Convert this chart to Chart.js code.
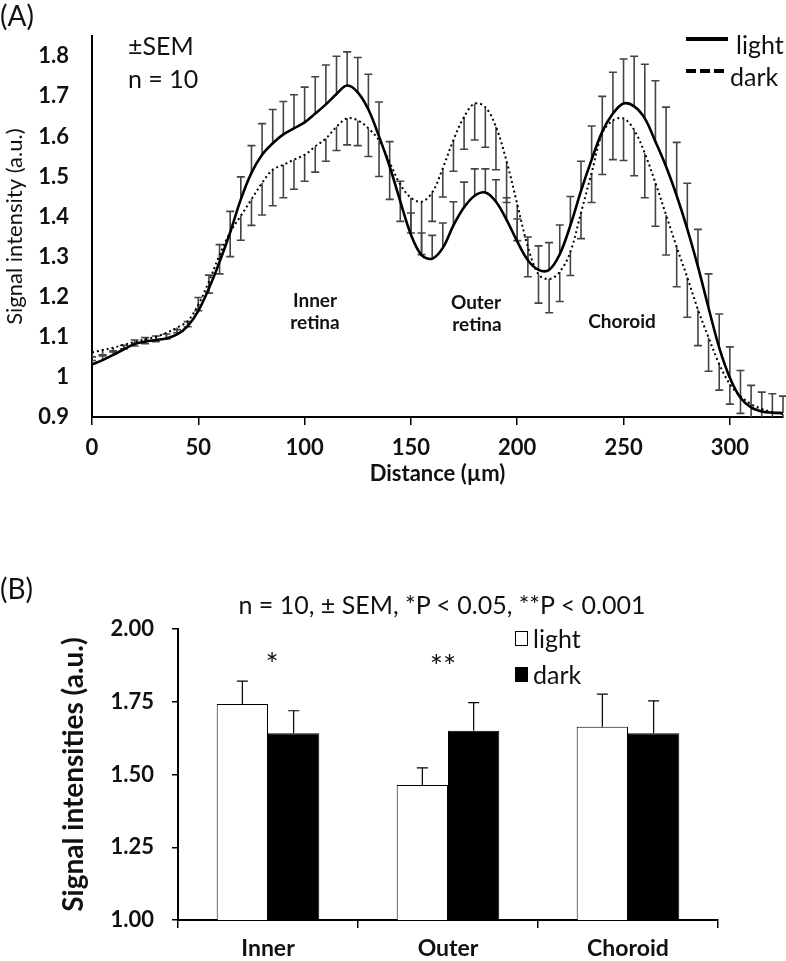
<!DOCTYPE html>
<html><head><meta charset="utf-8">
<script src="https://cdn.jsdelivr.net/npm/chart.js@4.4.1/dist/chart.umd.min.js"></script>
<style>
html,body{margin:0;padding:0;background:#fff;}
body{width:786px;height:961px;position:relative;overflow:hidden;font-family:Lato,"Open Sans",sans-serif;color:#111;}
.t{position:absolute;white-space:nowrap;line-height:1;}
.c{transform:translate(-50%,-50%);}
.l{transform:translate(0,-50%);}
#wa{position:absolute;left:0;top:0;width:786px;height:500px;}
#wb{position:absolute;left:0;top:560px;width:786px;height:401px;}
</style></head><body>
<div id="wa"><canvas id="ca"></canvas></div>
<div id="wb"><canvas id="cb"></canvas></div>

<div class="t l" style="left:0;top:15px;font-size:28px;">(A)</div>
<div class="t l" style="left:128px;top:45px;font-size:25px;">±SEM</div>
<div class="t l" style="left:128px;top:78px;font-size:25px;">n = 10</div>
<svg style="position:absolute;left:684px;top:30px" width="48" height="50">
  <line x1="2" y1="9" x2="44" y2="9" stroke="#000" stroke-width="4"/>
  <line x1="2" y1="41" x2="44" y2="41" stroke="#000" stroke-width="4" stroke-dasharray="10,4"/>
</svg>
<div class="t l" style="left:736px;top:44px;font-size:25px;">light</div>
<div class="t l" style="left:730px;top:76px;font-size:25px;">dark</div>
<div class="t c" style="left:315px;top:299px;font-size:19px;font-weight:bold;">Inner</div>
<div class="t c" style="left:315px;top:321px;font-size:19px;font-weight:bold;">retina</div>
<div class="t c" style="left:476px;top:301px;font-size:19px;font-weight:bold;">Outer</div>
<div class="t c" style="left:477px;top:323px;font-size:19px;font-weight:bold;">retina</div>
<div class="t c" style="left:622px;top:320px;font-size:19px;font-weight:bold;">Choroid</div>

<div class="t l" style="left:0;top:588px;font-size:28px;">(B)</div>
<div class="t c" style="left:442px;top:604px;font-size:25px;">n = 10, ± SEM, *P &lt; 0.05, **P &lt; 0.001</div>
<div class="t c" style="left:272px;top:663px;font-size:31px;">*</div>
<div class="t c" style="left:443px;top:665px;font-size:31px;">**</div>
<div style="position:absolute;left:515px;top:631px;width:11px;height:13px;border:1px solid #000;background:#fff;"></div>
<div style="position:absolute;left:515px;top:667px;width:13px;height:15px;background:#000;"></div>
<div class="t l" style="left:533px;top:638px;font-size:25px;">light</div>
<div class="t l" style="left:533px;top:674px;font-size:25px;">dark</div>

<script>
const distance = [0,5,10,15,20,25,30,35,40,45,50,55,60,65,70,75,80,85,90,95,100,105,110,115,120,125,130,135,140,145,150,155,160,165,170,175,180,185,190,195,200,205,210,215,220,225,230,235,240,245,250,255,260,265,270,275,280,285,290,295,300,305,310,315,320,325];
const lightMean = [1.031,1.042,1.055,1.069,1.082,1.088,1.092,1.096,1.106,1.127,
1.165,1.221,1.287,1.361,1.443,1.509,1.554,1.583,1.605,1.620,
1.635,1.657,1.680,1.706,1.727,1.710,1.667,1.600,1.525,1.438,
1.355,1.304,1.295,1.322,1.378,1.423,1.452,1.460,1.437,1.392,
1.338,1.291,1.267,1.267,1.306,1.378,1.464,1.542,1.612,1.657,
1.682,1.675,1.645,1.587,1.525,1.452,1.369,1.275,1.172,1.073,
0.998,0.948,0.924,0.914,0.911,0.910];
const lightSem = [0.010,0.010,0.010,0.010,0.010,0.010,0.010,0.011,0.012,0.011,
0.033,0.033,0.043,0.052,0.056,0.068,0.078,0.084,0.082,0.084,
0.088,0.092,0.098,0.094,0.084,0.087,0.088,0.086,0.062,0.050,
0.054,0.055,0.058,0.062,0.059,0.063,0.067,0.059,0.055,0.055,
0.056,0.058,0.060,0.068,0.073,0.072,0.074,0.084,0.088,0.103,
0.111,0.125,0.135,0.152,0.148,0.133,0.114,0.093,0.085,0.084,
0.077,0.068,0.055,0.048,0.047,0.042];
const darkMean = [1.061,1.067,1.073,1.080,1.087,1.094,1.100,1.110,1.123,1.139,
1.180,1.238,1.304,1.361,1.402,1.443,1.484,1.517,1.529,1.542,
1.554,1.575,1.595,1.624,1.645,1.640,1.620,1.590,1.535,1.480,
1.447,1.437,1.460,1.521,1.591,1.649,1.682,1.673,1.624,1.538,
1.431,1.325,1.256,1.244,1.262,1.312,1.410,1.509,1.608,1.640,
1.645,1.616,1.558,1.484,1.404,1.324,1.248,1.168,1.098,1.032,
0.982,0.952,0.932,0.920,0.912,0.907];
const darkSem = [0.011,0.012,0.011,0.010,0.010,0.011,0.012,0.015,0.013,0.014,
0.015,0.029,0.047,0.061,0.061,0.065,0.080,0.090,0.082,0.074,
0.066,0.064,0.057,0.059,0.066,0.063,0.070,0.090,0.092,0.092,
0.088,0.132,0.072,0.072,0.078,0.081,0.091,0.100,0.107,0.103,
0.091,0.075,0.072,0.084,0.074,0.059,0.065,0.074,0.103,0.098,
0.105,0.114,0.111,0.108,0.100,0.099,0.099,0.090,0.084,0.065,
0.050,0.043,0.045,0.045,0.045,0.045];
const distanceTicks = [0,50,100,150,200,250,300];
const intensityTicksA = [0.9,1.0,1.1,1.2,1.3,1.4,1.5,1.6,1.7,1.8];

const regions = ['Inner','Outer','Choroid'];
const barLight = [1.742,1.464,1.664];
const barLightSem = [0.079,0.059,0.112];
const barDark = [1.642,1.650,1.642];
const barDarkSem = [0.077,0.097,0.111];
const intensityTicksB = [1.00,1.25,1.50,1.75,2.00];

const FAM = 'Lato, "Open Sans", sans-serif';
Chart.defaults.font.family = FAM;
Chart.defaults.color = '#111';

const errA = {id:'errA', beforeDatasetsDraw(chart){
  const {ctx, chartArea:a, scales:{x,y}} = chart;
  ctx.save();
  ctx.beginPath(); ctx.rect(a.left, a.top-10, a.right-a.left+5, a.bottom-a.top+10); ctx.clip();
  ctx.strokeStyle = '#444'; ctx.lineWidth = 1.6;
  const cap = 4;
  distance.forEach((d,i)=>{
    const px = x.getPixelForValue(d);
    [[lightMean[i], lightMean[i]+lightSem[i]],[darkMean[i], darkMean[i]-darkSem[i]]].forEach(([m,e])=>{
      const y0 = y.getPixelForValue(m), y1 = y.getPixelForValue(e);
      ctx.beginPath();
      ctx.moveTo(px,y0); ctx.lineTo(px,y1);
      ctx.moveTo(px-cap,y1); ctx.lineTo(px+cap,y1);
      ctx.stroke();
    });
  });
  ctx.restore();
}};

new Chart(document.getElementById('ca'), {
  type:'line',
  data:{datasets:[
    {label:'light', data:distance.map((d,i)=>({x:d,y:lightMean[i]})), borderColor:'#000', borderWidth:2.6, pointRadius:0, tension:0.35, fill:false},
    {label:'dark', data:distance.map((d,i)=>({x:d,y:darkMean[i]})), borderColor:'#000', borderWidth:2, borderDash:[2,3], pointRadius:0, tension:0.35, fill:false}
  ]},
  options:{
    responsive:true, maintainAspectRatio:false, animation:false, devicePixelRatio:1,
    layout:{padding:{top:32,right:3,left:0,bottom:0}},
    plugins:{legend:{display:false}, tooltip:{enabled:false}},
    scales:{
      x:{type:'linear', min:0, max:325,
        afterBuildTicks:s=>{s.ticks = distanceTicks.map(v=>({value:v}));},
        afterFit:s=>{s.height = 83;},
        grid:{drawOnChartArea:false, drawTicks:true, tickLength:8, color:'#000', lineWidth:1.5},
        border:{display:true, color:'#000', width:2},
        ticks:{font:{size:22, weight:'bold'}, color:'#111', padding:10, maxRotation:0},
        title:{display:true, text:'Distance (µm)', font:{size:22, weight:'bold'}, color:'#111', padding:{top:0,bottom:13}}
      },
      y:{type:'linear', min:0.9, max:1.85,
        afterBuildTicks:s=>{s.ticks = intensityTicksA.map(v=>({value:v}));},
        afterFit:s=>{s.width = 92;},
        grid:{drawOnChartArea:false, drawTicks:false},
        border:{display:true, color:'#000', width:2},
        ticks:{font:{size:22, weight:'bold'}, color:'#111', padding:23, callback:v=>String(Number(v.toFixed(2)))},
        title:{display:true, text:'Signal intensity (a.u.)', font:{size:22}, color:'#111', padding:{top:2,bottom:0}}
      }
    }
  },
  plugins:[errA]
});

const errB = {id:'errB', afterDatasetsDraw(chart){
  const {ctx, scales:{y}} = chart;
  const sems = [barLightSem, barDarkSem];
  ctx.save();
  ctx.strokeStyle = '#000'; ctx.lineWidth = 1.2;
  chart.data.datasets.forEach((ds,di)=>{
    const meta = chart.getDatasetMeta(di);
    meta.data.forEach((bar,i)=>{
      const v = ds.data[i];
      const y0 = y.getPixelForValue(v), y1 = y.getPixelForValue(v + sems[di][i]);
      ctx.beginPath();
      ctx.moveTo(bar.x, y0); ctx.lineTo(bar.x, y1);
      ctx.moveTo(bar.x-5.5, y1); ctx.lineTo(bar.x+5.5, y1);
      ctx.stroke();
    });
  });
  ctx.restore();
}};

new Chart(document.getElementById('cb'), {
  type:'bar',
  data:{labels:regions, datasets:[
    {label:'light', data:barLight, backgroundColor:'#fff', borderColor:'#000', borderWidth:1, barPercentage:1, categoryPercentage:0.57},
    {label:'dark', data:barDark, backgroundColor:'#000', borderColor:'#000', borderWidth:1, barPercentage:1, categoryPercentage:0.57}
  ]},
  options:{
    responsive:true, maintainAspectRatio:false, animation:false, devicePixelRatio:1,
    layout:{padding:{top:69,right:68,left:0,bottom:0}},
    plugins:{legend:{display:false}, tooltip:{enabled:false}},
    scales:{
      x:{afterFit:s=>{s.height = 41;},
        grid:{offset:true, drawOnChartArea:false, drawTicks:true, tickLength:8, color:'#000', lineWidth:1.5},
        border:{display:true, color:'#000', width:2},
        ticks:{font:{size:23, weight:'bold'}, color:'#111', padding:7}
      },
      y:{min:1, max:2,
        afterBuildTicks:s=>{s.ticks = intensityTicksB.map(v=>({value:v}));},
        afterFit:s=>{s.width = 178;},
        grid:{drawOnChartArea:false, drawTicks:true, tickLength:6, color:'#000', lineWidth:1.5},
        border:{display:true, color:'#000', width:2},
        ticks:{font:{size:22, weight:'bold'}, color:'#111', padding:18, callback:v=>Number(v).toFixed(2)},
        title:{display:true, text:'Signal intensities (a.u.)', font:{size:28, weight:'bold'}, color:'#111', padding:{top:57,bottom:0}}
      }
    }
  },
  plugins:[errB]
});
</script>
</body></html>
